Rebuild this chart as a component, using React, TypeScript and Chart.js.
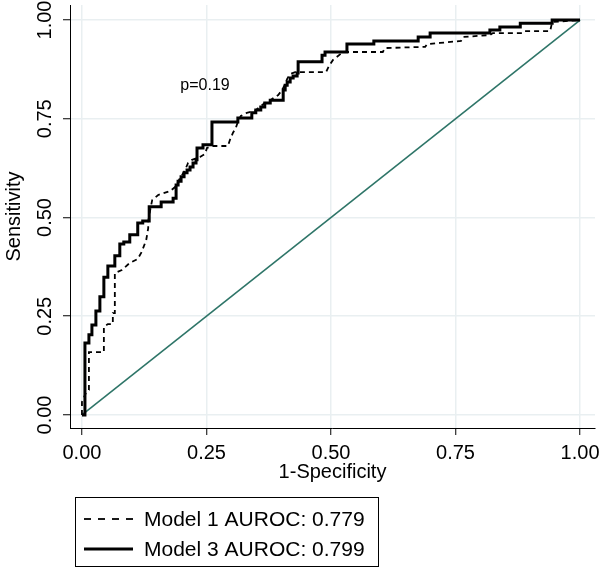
import React, { useEffect, useRef } from 'react';
import { Chart, registerables } from 'chart.js';

Chart.register(...registerables);

// ---- data ----
const tickValues = [0, 0.25, 0.5, 0.75, 1];
const tickLabels = ['0.00', '0.25', '0.50', '0.75', '1.00'];

const seriesLabels = ['Model 1 AUROC: 0.779', 'Model 3 AUROC: 0.799'];

const model1Fpr = [0, 0, 0.008, 0.014, 0.014, 0.044, 0.044, 0.052, 0.062, 0.062, 0.066, 0.066, 0.080, 0.096, 0.112, 0.120, 0.129, 0.133, 0.133, 0.137, 0.141, 0.153, 0.177, 0.187, 0.197, 0.207, 0.213, 0.221, 0.237, 0.247, 0.251, 0.263, 0.293, 0.297, 0.303, 0.309, 0.313, 0.319, 0.331, 0.347, 0.357, 0.367, 0.378, 0.394, 0.402, 0.408, 0.412, 0.418, 0.428, 0.490, 0.496, 0.504, 0.514, 0.524, 0.604, 0.608, 0.689, 0.693, 0.719, 0.761, 0.765, 0.819, 0.825, 0.884, 0.888, 0.940, 0.944, 1];
const model1Tpr = [0, 0.033, 0.056, 0.063, 0.159, 0.159, 0.223, 0.230, 0.230, 0.258, 0.258, 0.359, 0.367, 0.385, 0.395, 0.413, 0.443, 0.473, 0.489, 0.519, 0.544, 0.557, 0.567, 0.577, 0.600, 0.620, 0.638, 0.646, 0.653, 0.661, 0.676, 0.681, 0.681, 0.696, 0.714, 0.727, 0.742, 0.757, 0.765, 0.770, 0.780, 0.790, 0.797, 0.810, 0.823, 0.838, 0.851, 0.863, 0.868, 0.868, 0.884, 0.899, 0.909, 0.919, 0.919, 0.929, 0.932, 0.939, 0.942, 0.947, 0.957, 0.962, 0.967, 0.967, 0.972, 0.972, 0.995, 1];

const model3Fpr = [0, 0.006, 0.006, 0.014, 0.014, 0.020, 0.020, 0.028, 0.028, 0.036, 0.036, 0.044, 0.044, 0.052, 0.052, 0.066, 0.066, 0.076, 0.076, 0.084, 0.084, 0.096, 0.096, 0.112, 0.112, 0.122, 0.122, 0.135, 0.135, 0.159, 0.159, 0.183, 0.183, 0.189, 0.189, 0.193, 0.193, 0.199, 0.199, 0.205, 0.205, 0.211, 0.211, 0.217, 0.217, 0.223, 0.223, 0.229, 0.229, 0.231, 0.231, 0.243, 0.243, 0.261, 0.261, 0.313, 0.313, 0.341, 0.341, 0.349, 0.349, 0.359, 0.359, 0.367, 0.367, 0.378, 0.378, 0.404, 0.404, 0.408, 0.408, 0.412, 0.412, 0.418, 0.418, 0.424, 0.424, 0.432, 0.432, 0.434, 0.434, 0.482, 0.482, 0.488, 0.488, 0.532, 0.532, 0.586, 0.586, 0.675, 0.675, 0.699, 0.699, 0.819, 0.819, 0.839, 0.839, 0.880, 0.880, 0.944, 0.944, 1];
const model3Tpr = [0, 0, 0.182, 0.182, 0.203, 0.203, 0.228, 0.228, 0.263, 0.263, 0.299, 0.299, 0.349, 0.349, 0.377, 0.377, 0.403, 0.403, 0.433, 0.433, 0.438, 0.438, 0.456, 0.456, 0.486, 0.486, 0.491, 0.491, 0.527, 0.527, 0.539, 0.539, 0.549, 0.549, 0.582, 0.582, 0.592, 0.592, 0.603, 0.603, 0.613, 0.613, 0.620, 0.620, 0.628, 0.628, 0.638, 0.638, 0.646, 0.646, 0.676, 0.676, 0.684, 0.684, 0.742, 0.742, 0.752, 0.752, 0.765, 0.765, 0.772, 0.772, 0.780, 0.780, 0.790, 0.790, 0.797, 0.797, 0.823, 0.823, 0.835, 0.835, 0.843, 0.843, 0.853, 0.853, 0.858, 0.858, 0.866, 0.866, 0.894, 0.894, 0.911, 0.911, 0.919, 0.919, 0.939, 0.939, 0.947, 0.947, 0.957, 0.957, 0.967, 0.967, 0.975, 0.975, 0.982, 0.982, 0.992, 0.992, 1, 1];

const referenceFpr = [0, 1];
const referenceTpr = [0, 1];

const annotationText = 'p=0.19';
const annotationPos = [0.247, 0.835];

const FONT = "'Liberation Sans', Arial, Helvetica, sans-serif";

const toPoints = (xs: number[], ys: number[]) => xs.map((x, i) => ({ x, y: ys[i] }));

const extrasPlugin = {
  id: 'extras',
  afterDraw(chart: any) {
    const ctx = chart.ctx;
    const xs = chart.scales.x;
    const ys = chart.scales.y;
    ctx.save();
    // rotated y tick labels
    ctx.fillStyle = '#000';
    ctx.font = `20px ${FONT}`;
    ctx.textAlign = 'center';
    ctx.textBaseline = 'middle';
    ys.ticks.forEach((t: any) => {
      const idx = tickValues.indexOf(t.value);
      const py = ys.getPixelForValue(t.value);
      ctx.save();
      ctx.translate(ys.right - 25, py);
      ctx.rotate(-Math.PI / 2);
      ctx.fillText(idx >= 0 ? tickLabels[idx] : String(t.value), 0, 0);
      ctx.restore();
    });
    // annotation
    ctx.font = `16px ${FONT}`;
    ctx.fillText(annotationText, xs.getPixelForValue(annotationPos[0]), ys.getPixelForValue(annotationPos[1]));
    // legend box
    const bx = 75, by = 497, bw = 303, bh = 69;
    ctx.strokeStyle = '#000';
    ctx.lineWidth = 1;
    ctx.strokeRect(bx + 0.5, by + 0.5, bw, bh);
    ctx.font = `21px ${FONT}`;
    ctx.textAlign = 'left';
    [0, 1].forEach((i) => {
      const ds = chart.data.datasets[i];
      const ly = by + 22 + i * 30;
      ctx.save();
      ctx.strokeStyle = ds.borderColor;
      ctx.lineWidth = ds.borderWidth;
      ctx.setLineDash(ds.borderDash ? [7, 7] : []);
      ctx.beginPath();
      ctx.moveTo(bx + 9, ly);
      ctx.lineTo(bx + 58, ly);
      ctx.stroke();
      ctx.restore();
      ctx.fillStyle = '#000';
      ctx.fillText(ds.label, bx + 69, ly + 1);
    });
    ctx.restore();
  },
};

export default function App() {
  const ref = useRef<HTMLCanvasElement | null>(null);
  useEffect(() => {
    if (!ref.current) return;
    const chart = new Chart(ref.current, {
      type: 'line',
      data: {
        datasets: [
          {
            label: seriesLabels[0],
            data: toPoints(model1Fpr, model1Tpr),
            borderColor: '#000',
            borderWidth: 1.8,
            borderDash: [5, 4],
            pointRadius: 0,
            fill: false,
            tension: 0,
          },
          {
            label: seriesLabels[1],
            data: toPoints(model3Fpr, model3Tpr),
            borderColor: '#000',
            borderWidth: 3,
            pointRadius: 0,
            fill: false,
            tension: 0,
          },
          {
            label: 'reference',
            data: toPoints(referenceFpr, referenceTpr),
            borderColor: '#2e7568',
            borderWidth: 1.6,
            pointRadius: 0,
            fill: false,
            tension: 0,
          },
        ],
      },
      options: {
        animation: false,
        responsive: false,
        events: [],
        layout: { padding: { top: 5, right: 6, left: 0, bottom: 89 } },
        plugins: { legend: { display: false }, tooltip: { enabled: false } },
        scales: {
          x: {
            type: 'linear',
            min: -0.024,
            max: 1.03,
            afterBuildTicks: (s: any) => { s.ticks = tickValues.map((v) => ({ value: v })); },
            afterFit: (s: any) => { s.height = 56; s.paddingLeft = 0; s.paddingRight = 0; },
            grid: { color: '#e9eff1', lineWidth: 1.5, tickColor: '#000', tickLength: 7, tickWidth: 1 },
            border: { display: true, color: '#000', width: 1 },
            ticks: {
              color: '#000',
              font: { family: FONT, size: 20 },
              padding: 6,
              maxRotation: 0,
              autoSkip: false,
              callback: (v: any) => { const i = tickValues.indexOf(Number(v)); return i >= 0 ? tickLabels[i] : ''; },
            },
            title: { display: true, text: '1-Specificity', color: '#000', font: { family: FONT, size: 20 }, padding: { top: 0, bottom: 0 } },
          },
          y: {
            type: 'linear',
            min: -0.033,
            max: 1.038,
            afterBuildTicks: (s: any) => { s.ticks = tickValues.map((v) => ({ value: v })); },
            afterFit: (s: any) => { s.width = 70; s.paddingTop = 0; s.paddingBottom = 0; },
            grid: { color: '#e9eff1', lineWidth: 1.5, tickColor: '#000', tickLength: 7, tickWidth: 1 },
            border: { display: true, color: '#000', width: 1 },
            ticks: { display: false },
            title: { display: true, text: 'Sensitivity', color: '#000', font: { family: FONT, size: 20 }, padding: { top: 2, bottom: 0 } },
          },
        },
      },
      plugins: [extrasPlugin],
    });
    return () => chart.destroy();
  }, []);
  return (
    <div style={{ position: 'fixed', left: 0, top: 0, width: 601, height: 573, background: '#fff' }}>
      <canvas ref={ref} width={601} height={573} style={{ width: 601, height: 573 }} />
    </div>
  );
}
